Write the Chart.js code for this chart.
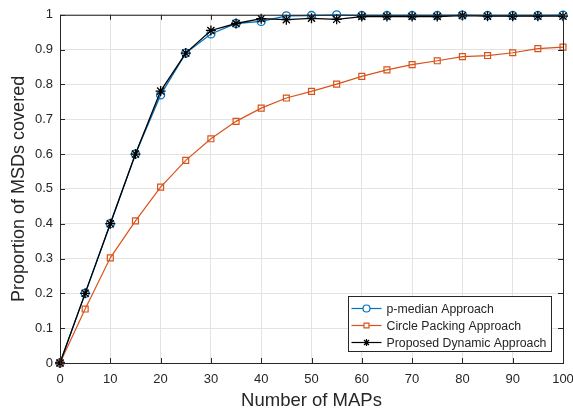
<!DOCTYPE html>
<html>
<head>
<meta charset="utf-8">
<script src="https://cdn.jsdelivr.net/npm/chart.js@4/dist/chart.umd.min.js"></script>
<style>
  html, body { margin: 0; padding: 0; background: #fff; }
  #wrap { width: 573px; height: 416px; }
</style>
</head>
<body>
<div id="wrap"><canvas id="myChart" width="573" height="416"></canvas></div>
<script>
const maps = [0, 5, 10, 15, 20, 25, 30, 35, 40, 45, 50, 55, 60, 65, 70, 75, 80, 85, 90, 95, 100];
const pMedian = [0, 0.2, 0.4, 0.6, 0.77, 0.89, 0.945, 0.975, 0.981, 0.997, 0.998, 1.0, 0.998, 0.998, 0.998, 0.998, 0.999, 0.998, 0.998, 0.998, 0.999];
const circlePacking = [0, 0.155, 0.302, 0.408, 0.505, 0.582, 0.644, 0.694, 0.732, 0.761, 0.780, 0.801, 0.823, 0.842, 0.857, 0.868, 0.880, 0.883, 0.891, 0.903, 0.907];
const proposed = [0, 0.2, 0.4, 0.6, 0.781, 0.89, 0.955, 0.975, 0.989, 0.986, 0.990, 0.987, 0.995, 0.995, 0.995, 0.995, 0.998, 0.996, 0.996, 0.996, 0.996];
const xTicks = [0, 10, 20, 30, 40, 50, 60, 70, 80, 90, 100];
const yTicks = [0, 0.1, 0.2, 0.3, 0.4, 0.5, 0.6, 0.7, 0.8, 0.9, 1];

const FONT = '"Liberation Sans", Arial, sans-serif';
const axisColor = '#262626';

function toPoints(ys) {
  return maps.map((x, i) => ({ x: x, y: ys[i] }));
}

// box, inward ticks and the legend, MATLAB style
const matlabFrame = {
  id: 'matlabFrame',
  afterDatasetsDraw(chart) {
    const { ctx, chartArea: { left, right, top, bottom }, scales: { x, y } } = chart;
    ctx.save();
    ctx.strokeStyle = axisColor;
    ctx.lineWidth = 1;
    ctx.strokeRect(left + 0.5, top + 0.5, right - left, bottom - top);
    ctx.beginPath();
    xTicks.forEach(v => {
      const px = Math.round(x.getPixelForValue(v)) + 0.5;
      ctx.moveTo(px, bottom); ctx.lineTo(px, bottom - 5);
      ctx.moveTo(px, top); ctx.lineTo(px, top + 5);
    });
    yTicks.forEach(v => {
      const py = Math.round(y.getPixelForValue(v)) + 0.5;
      ctx.moveTo(left, py); ctx.lineTo(left + 5, py);
      ctx.moveTo(right, py); ctx.lineTo(right - 5, py);
    });
    ctx.stroke();

    // legend
    const bx = 348.5, by = 296.5, bw = 203, bh = 55;
    ctx.fillStyle = '#fff';
    ctx.fillRect(bx, by, bw, bh);
    ctx.strokeStyle = axisColor;
    ctx.strokeRect(bx, by, bw, bh);
    ctx.font = '12.3px ' + FONT;
    ctx.textBaseline = 'middle';
    ctx.textAlign = 'left';
    chart.data.datasets.forEach((d, i) => {
      const ly = by + 12 + i * 17;
      ctx.strokeStyle = d.borderColor;
      ctx.lineWidth = 1.2;
      ctx.beginPath();
      ctx.moveTo(bx + 3, ly); ctx.lineTo(bx + 33, ly);
      ctx.stroke();
      ctx.fillStyle = '#fff';
      Chart.helpers.drawPoint(ctx, {
        pointStyle: d.pointStyle, radius: 3.5, rotation: 0, borderWidth: 1.2
      }, bx + 18, ly);
      ctx.fillStyle = axisColor;
      ctx.fillText(d.label, bx + 38, ly + 1);
    });
    ctx.restore();
  }
};

const config = {
  type: 'line',
  data: {
    datasets: [
      {
        label: 'p-median Approach',
        data: toPoints(pMedian),
        borderColor: '#0072BD',
        backgroundColor: 'rgba(0,0,0,0)',
        pointStyle: 'circle',
        pointRadius: 4,
        pointBorderWidth: 1.3,
        borderWidth: 1.3,
        order: 2
      },
      {
        label: 'Circle Packing Approach',
        data: toPoints(circlePacking),
        borderColor: '#D95319',
        backgroundColor: 'rgba(0,0,0,0)',
        pointStyle: 'rect',
        pointRadius: 4.2,
        pointBorderWidth: 1.2,
        borderWidth: 1.2,
        order: 1
      },
      {
        label: 'Proposed Dynamic Approach',
        data: toPoints(proposed),
        borderColor: '#000000',
        backgroundColor: 'rgba(0,0,0,0)',
        pointStyle: 'star',
        pointRadius: 5,
        pointBorderWidth: 1.3,
        borderWidth: 1.3,
        order: 0
      }
    ]
  },
  options: {
    responsive: false,
    animation: false,
    clip: false,
    layout: { padding: { top: 14, right: 10, left: 0, bottom: 0 } },
    plugins: { legend: { display: false }, tooltip: { enabled: false } },
    scales: {
      x: {
        type: 'linear',
        min: 0, max: 100,
        afterBuildTicks: s => { s.ticks = xTicks.map(v => ({ value: v })); },
        afterFit: s => { s.height = 53; s.paddingLeft = 0; s.paddingRight = 0; },
        grid: { color: '#e3e3e3', drawTicks: false },
        border: { display: false },
        ticks: { color: axisColor, font: { family: FONT, size: 13 }, padding: 9, maxRotation: 0,
                 callback: v => String(v) },
        title: { display: true, text: 'Number of MAPs', color: axisColor, font: { family: FONT, size: 18.5 }, padding: { top: 2, bottom: 4 } }
      },
      y: {
        min: 0, max: 1,
        afterBuildTicks: s => { s.ticks = yTicks.map(v => ({ value: v })); },
        afterFit: s => { s.width = 60; },
        grid: { color: '#e3e3e3', drawTicks: false },
        border: { display: false },
        ticks: { color: axisColor, font: { family: FONT, size: 13 }, padding: 7,
                 callback: v => String(Math.round(v * 10) / 10) },
        title: { display: true, text: 'Proportion of MSDs covered', color: axisColor, font: { family: FONT, size: 18 }, padding: { top: 8, bottom: 2 } }
      }
    }
  },
  plugins: [matlabFrame]
};

const myChart = new Chart(document.getElementById('myChart'), config);
</script>
</body>
</html>
